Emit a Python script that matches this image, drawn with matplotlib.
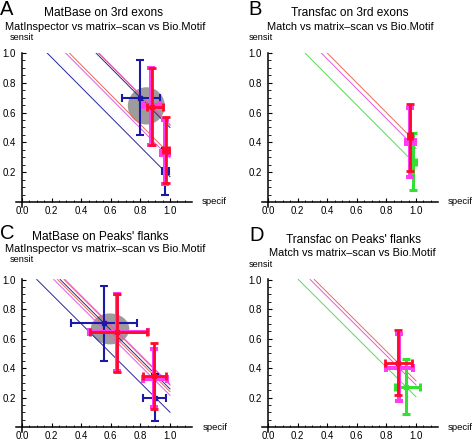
import matplotlib
matplotlib.use('Agg')
import matplotlib.pyplot as plt
from matplotlib.patches import Ellipse
from matplotlib.ticker import FixedLocator, FormatStrFormatter

plt.rcParams['font.family'] = ['Liberation Sans', 'DejaVu Sans']

# ---------------- data ----------------
# each panel: per method lists of points (specificity, sensitivity) with error ranges
A_methods = ['blue', 'magenta', 'red']
A_spec = [[0.80, 0.965], [0.87, 0.965], [0.875, 0.97]]
A_sens = [[0.70, 0.205], [0.65, 0.33], [0.64, 0.35]]
A_spec_lo = [[0.675, 0.945], [0.82, 0.94], [0.845, 0.95]]
A_spec_hi = [[0.93, 0.99], [0.93, 0.99], [0.955, 0.99]]
A_sens_lo = [[0.45, 0.045], [0.38, 0.12], [0.38, 0.13]]
A_sens_hi = [[0.95, 0.36], [0.90, 0.55], [0.90, 0.57]]
A_ellipse = (0.84, 0.645, 0.25, 0.25)

B_methods = ['green', 'magenta', 'red']
B_spec = [[0.98], [0.96], [0.96]]
B_sens = [[0.27], [0.40], [0.44]]
B_spec_lo = [[0.96], [0.93], [0.945]]
B_spec_hi = [[1.00], [0.99], [0.975]]
B_sens_lo = [[0.08], [0.17], [0.21]]
B_sens_hi = [[0.46], [0.63], [0.655]]

C_methods = ['blue', 'magenta', 'red']
C_spec = [[0.555, 0.90], [0.645, 0.89], [0.64, 0.895]]
C_sens = [[0.703, 0.20], [0.645, 0.325], [0.644, 0.345]]
C_spec_lo = [[0.33, 0.82], [0.45, 0.82], [0.46, 0.82]]
C_spec_hi = [[0.775, 0.973], [0.85, 0.98], [0.845, 0.973]]
C_sens_lo = [[0.448, 0.04], [0.38, 0.133], [0.376, 0.122]]
C_sens_hi = [[0.955, 0.36], [0.90, 0.53], [0.905, 0.567]]
C_ellipse = (0.595, 0.665, 0.26, 0.21)

D_methods = ['green', 'magenta', 'red']
D_spec = [[0.935], [0.885], [0.878]]
D_sens = [[0.27], [0.40], [0.435]]
D_spec_lo = [[0.86], [0.80], [0.79]]
D_spec_hi = [[1.03], [0.98], [0.97]]
D_sens_lo = [[0.085], [0.175], [0.215]]
D_sens_hi = [[0.46], [0.63], [0.655]]

x_ticks = [0.0, 0.2, 0.4, 0.6, 0.8, 1.0]
y_ticks = [0.2, 0.4, 0.6, 0.8, 1.0]

letters = ['A', 'B', 'C', 'D']
title1 = ['MatBase on 3rd exons', 'Transfac on 3rd exons',
          "MatBase on Peaks' flanks", "Transfac on Peaks' flanks"]
title2 = ['MatInspector vs matrix\u2013scan vs Bio.Motif', 'Match vs matrix\u2013scan vs Bio.Motif',
          'MatInspector vs matrix\u2013scan vs Bio.Motif', 'Match vs matrix\u2013scan vs Bio.Motif']

# ---------------- style ----------------
COL = {'blue': '#1a1aa6', 'magenta': '#ff3cf0', 'red': '#ff0a2a', 'green': '#34e034'}
LCOL = {'blue': '#2626a0', 'magenta': '#e25ae0', 'red': '#e86a5a', 'green': '#58d858'}
BARW = {'blue': 1.5, 'magenta': 2.9, 'red': 2.0, 'green': 2.2}

W, H = 472, 440
fig = plt.figure(figsize=(W / 100, H / 100), dpi=100)

SX = 148.0
XMIN, XMAX = -0.04, 1.15
YMIN, YMAX = -0.035, 1.003


def make_axes(ox, oy, sy):
    left = ox + XMIN * SX
    right = ox + XMAX * SX
    top = oy - YMAX * sy
    bottom = oy - YMIN * sy
    ax = fig.add_axes([left / W, 1 - bottom / H, (right - left) / W, (bottom - top) / H])
    ax.set_xlim(XMIN, XMAX)
    ax.set_ylim(YMIN, YMAX)
    ax.patch.set_alpha(0)
    for s in ['top', 'right']:
        ax.spines[s].set_visible(False)
    for s in ['left', 'bottom']:
        ax.spines[s].set_position(('data', 0))
        ax.spines[s].set_linewidth(1.1)
    ax.xaxis.set_major_locator(FixedLocator(x_ticks))
    ax.yaxis.set_major_locator(FixedLocator(y_ticks))
    ax.xaxis.set_minor_locator(FixedLocator([i * 0.05 for i in range(0, 23) if i % 4]))
    ax.yaxis.set_minor_locator(FixedLocator([i * 0.05 for i in range(1, 21) if i % 4]))
    ax.xaxis.set_major_formatter(FormatStrFormatter('%.1f'))
    ax.yaxis.set_major_formatter(FormatStrFormatter('%.1f'))
    ax.tick_params(which='major', direction='in', length=3.2, width=0.8, labelsize=7.0, pad=3.0)
    ax.tick_params(which='minor', direction='in', length=1.8, width=0.6)
    ax.tick_params(axis='y', which='major', pad=4.3)
    return ax


def draw(ax, methods, spec, sens, slo, shi, ylo, yhi, ellipse=None):
    if ellipse is not None:
        cx, cy, w, h = ellipse
        ax.add_patch(Ellipse((cx, cy), w, h, facecolor='#9c9c9c', edgecolor='none', zorder=1))
    for k, m in enumerate(methods):
        for x, y in zip(spec[k], sens[k]):
            s = x + y
            ax.plot([s - 1.0, 1.0], [1.0, s - 1.0], color=LCOL[m], lw=0.7, zorder=2)
    for k, m in enumerate(methods):
        for i in range(len(spec[k])):
            x, y = spec[k][i], sens[k][i]
            ax.errorbar([x], [y],
                        xerr=[[x - slo[k][i]], [shi[k][i] - x]],
                        yerr=[[y - ylo[k][i]], [yhi[k][i] - y]],
                        fmt='s', ms=3.0, color=COL[m], ecolor=COL[m],
                        elinewidth=BARW[m], capsize=2.6, capthick=BARW[m],
                        zorder=3 + k, clip_on=False)


origins = [(22, 202, 149.0), (268, 202, 149.0), (22, 427, 147.5), (268, 427, 147.5)]
axA = make_axes(*origins[0])
draw(axA, A_methods, A_spec, A_sens, A_spec_lo, A_spec_hi, A_sens_lo, A_sens_hi, A_ellipse)
axB = make_axes(*origins[1])
draw(axB, B_methods, B_spec, B_sens, B_spec_lo, B_spec_hi, B_sens_lo, B_sens_hi)
axC = make_axes(*origins[2])
draw(axC, C_methods, C_spec, C_sens, C_spec_lo, C_spec_hi, C_sens_lo, C_sens_hi, C_ellipse)
axD = make_axes(*origins[3])
draw(axD, D_methods, D_spec, D_sens, D_spec_lo, D_spec_hi, D_sens_lo, D_sens_hi)


def ftext(x, y, s, **kw):
    fig.text(x / W, 1 - y / H, s, va='baseline', **kw)


# letter (x, baseline), title1 (cx, baseline), title2 (cx, baseline), sensit (x, baseline), specif (x, baseline)
txtpos = [
    ((0, 15), (104, 16), (105, 30), (10, 40.5), (202, 204)),
    ((248, 15), (350, 16), (350, 30), (249, 40.5), (448, 204)),
    ((0, 239), (100, 240), (105, 252), (10, 261.5), (203, 430)),
    ((249, 241), (353, 243), (352, 256), (249, 267), (448, 430)),
]
for i in range(4):
    (lx, ly), (t1x, t1y), (t2x, t2y), (sx_, sy_), (px, py) = txtpos[i]
    ftext(lx, ly, letters[i], fontsize=14.5, ha='left')
    ftext(t1x, t1y, title1[i], fontsize=8.6, ha='center')
    ftext(t2x, t2y, title2[i], fontsize=7.9, ha='center')
    ftext(sx_, sy_, 'sensit', fontsize=6.6, ha='left')
    ftext(px, py, 'specif', fontsize=6.8, ha='left')

fig.savefig('out.png', dpi=100)
